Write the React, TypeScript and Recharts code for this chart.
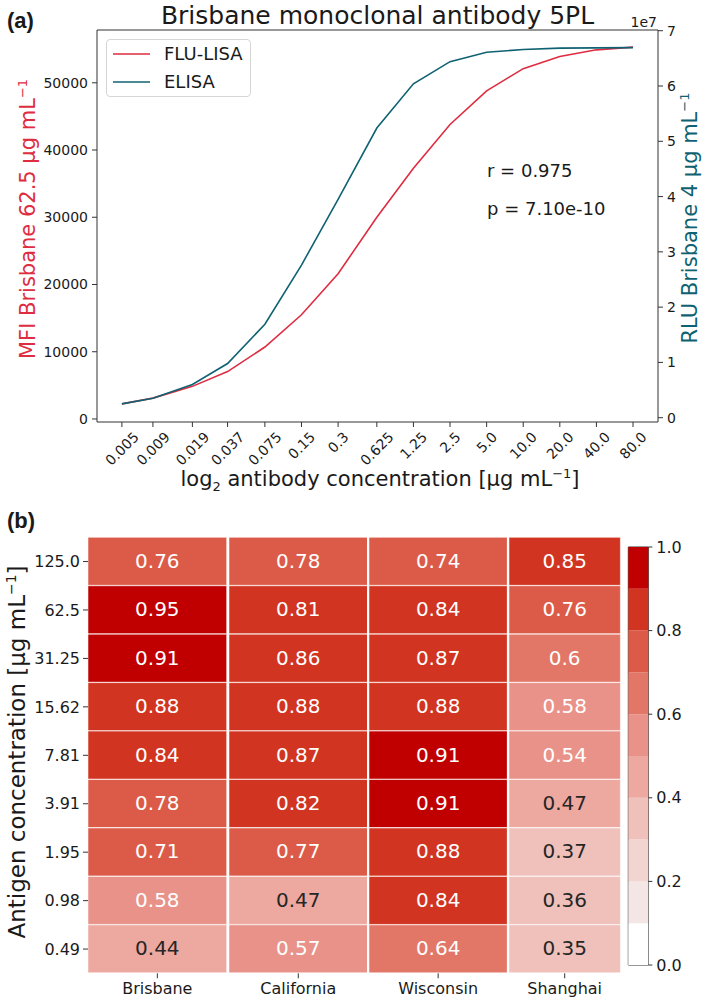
import React from "react";
import {
  LineChart,
  Line,
  XAxis,
  YAxis,
  Legend,
  ReferenceLine,
  BarChart,
  Bar,
  Cell,
  LabelList,
  ReferenceArea,
} from "recharts";

// ---- panel (a): dose-response curves ----
const concentrations = [0.005, 0.009, 0.019, 0.037, 0.075, 0.15, 0.3, 0.625, 1.25, 2.5, 5.0, 10.0, 20.0, 40.0, 80.0];
const concLabels = ["0.005", "0.009", "0.019", "0.037", "0.075", "0.15", "0.3", "0.625", "1.25", "2.5", "5.0", "10.0", "20.0", "40.0", "80.0"];
const fluLisaMfi = [2250, 3100, 4850, 7050, 10700, 15500, 21600, 30000, 37300, 43800, 48800, 52100, 53900, 54900, 55300];
const elisaRlu = [2500000, 3500000, 6000000, 9800000, 16900000, 27600000, 39500000, 52400000, 60400000, 64400000, 66100000, 66600000, 66850000, 66900000, 66950000];
const mfiTicks = [0, 10000, 20000, 30000, 40000, 50000];
const rluTicks = [0, 10000000, 20000000, 30000000, 40000000, 50000000, 60000000, 70000000];
const seriesOrder = ["FLU-LISA", "ELISA"];

// ---- panel (b): correlation heatmap ----
const strains = ["Brisbane", "California", "Wisconsin", "Shanghai"];
const antigenConc = ["125.0", "62.5", "31.25", "15.62", "7.81", "3.91", "1.95", "0.98", "0.49"];
const brisbane = [0.76, 0.95, 0.91, 0.88, 0.84, 0.78, 0.71, 0.58, 0.44];
const california = [0.78, 0.81, 0.86, 0.88, 0.87, 0.82, 0.77, 0.47, 0.57];
const wisconsin = [0.74, 0.84, 0.87, 0.88, 0.91, 0.91, 0.88, 0.84, 0.64];
const shanghai = [0.85, 0.76, 0.6, 0.58, 0.54, 0.47, 0.37, 0.36, 0.35];
const colorbarTicks = [0, 0.2, 0.4, 0.6, 0.8, 1.0];
const colorLevels = [0, 0.1, 0.2, 0.3, 0.4, 0.5, 0.6, 0.7, 0.8, 0.9];

const FONT = '"DejaVu Sans", sans-serif';
const INK = "#1a1a1a";
const AXIS = "#333";
const RED = "#de2c40";
const TEAL = "#0f6272";
const PALETTE = ["#ffffff", "#f4e6e5", "#f2d5d1", "#f0c0ba", "#eda8a0", "#e8928a", "#e27767", "#dc5b48", "#d13420", "#c00000"];

const curveData = concentrations.map((c, i) => ({ conc: c, flu: fluLisaMfi[i], elisa: elisaRlu[i] }));

const binColor = (v: number) => PALETTE[Math.min(9, Math.floor(v * 10 + 1e-9))];

const luminance = (hex: string) => {
  const ch = [1, 3, 5].map((k) => {
    const c = parseInt(hex.slice(k, k + 2), 16) / 255;
    return c <= 0.03928 ? c / 12.92 : Math.pow((c + 0.055) / 1.055, 2.4);
  });
  return 0.2126 * ch[0] + 0.7152 * ch[1] + 0.0722 * ch[2];
};
const textColor = (v: number) => (luminance(binColor(v)) > 0.408 ? "#262626" : "#ffffff");

const textW = (s: string, size: number) =>
  [...s].reduce((a, ch) => a + (ch === "." ? 0.318 : 0.636), 0) * size;

const RotTick = (props: any) => {
  const { x, y, payload } = props;
  const label = concLabels[concentrations.indexOf(payload.value)] ?? String(payload.value);
  const fs = 14;
  const w = textW(label, fs);
  const ax = x + 0.354 * (w + 0.73 * fs);
  const ay = y + 11;
  return (
    <text x={ax} y={ay} textAnchor="end" fontSize={fs} fill={INK} transform={`rotate(-45 ${ax} ${ay})`}>
      {label}
    </text>
  );
};

const renderLegend = (props: any) => {
  const items = [...(props.payload || [])].sort(
    (a: any, b: any) => seriesOrder.indexOf(a.value) - seriesOrder.indexOf(b.value)
  );
  return (
    <div
      style={{
        width: 145,
        boxSizing: "border-box",
        border: "1px solid #d6d6d6",
        borderRadius: 4,
        background: "#fff",
        padding: "0 6px",
        fontFamily: FONT,
        fontSize: 18,
        color: INK,
      }}
    >
      {items.map((p: any) => (
        <div key={p.value} style={{ display: "flex", alignItems: "center", height: 28 }}>
          <svg width={37} height={4} style={{ display: "block" }}>
            <line x1={0} y1={2} x2={37} y2={2} stroke={p.color} strokeWidth={1.6} />
          </svg>
          <span style={{ marginLeft: 14, lineHeight: "28px" }}>{p.value}</span>
        </div>
      ))}
    </div>
  );
};

const CellLabel = (props: any) => {
  const vb = props.viewBox || props;
  const x = props.x ?? vb.x;
  const y = props.y ?? vb.y;
  const width = props.width ?? vb.width;
  const height = props.height ?? vb.height;
  const v = Number(props.value);
  return (
    <text x={x + width / 2} y={y + height / 2 + 6.5} textAnchor="middle" fontSize={20} fill={textColor(v)}>
      {String(v)}
    </text>
  );
};

const HeatColumn = ({ strain, values, left, width, first }: any) => {
  const axisW = first ? 88 : 8;
  const rows = antigenConc.map((c, i) => ({ conc: c, v: values[i], span: 1 }));
  return (
    <div style={{ position: "absolute", left: left - axisW, top: 500 }}>
      <BarChart
        layout="vertical"
        width={axisW + width}
        height={499}
        data={rows}
        margin={{ top: 37.3, right: 0, bottom: 0, left: 0 }}
        barCategoryGap={0}
      >
        <XAxis
          type="number"
          domain={[0, 1]}
          ticks={[0.5]}
          tickFormatter={() => strain}
          axisLine={false}
          tickSize={5}
          tickMargin={4}
          height={25.7}
          stroke={AXIS}
          tick={{ fontSize: 16, fill: INK }}
        />
        <YAxis
          type="category"
          dataKey="conc"
          width={axisW}
          axisLine={false}
          tickSize={first ? 5 : 4}
          tickMargin={3}
          stroke={AXIS}
          tick={first ? { fontSize: 16, fill: INK } : false}
        />
        <Bar dataKey="span" isAnimationActive={false} stroke="#ffffff" strokeWidth={1} strokeOpacity={0.55}>
          {rows.map((r, i) => (
            <Cell key={i} fill={binColor(r.v)} />
          ))}
          <LabelList dataKey="v" content={CellLabel} />
        </Bar>
        {first && (
          <text x={7} y={28} fontFamily='"Liberation Sans", sans-serif' fontWeight="bold" fontSize={22} fill={INK}>
            (b)
          </text>
        )}
        {first && (
          <text transform="rotate(-90)" x={-252} y={25} textAnchor="middle" fontSize={23} fill={INK}>
            Antigen concentration [µg mL
            <tspan dy={-9} fontSize={14}>−1</tspan>
            <tspan dy={9}>]</tspan>
          </text>
        )}
      </BarChart>
    </div>
  );
};

const heatColumns = [brisbane, california, wisconsin, shanghai];
const colLeft = [88, 228.7, 369, 509.3];
const colRight = [226.7, 367.3, 507.3, 620.7];

const cbRow = [{ name: "cb", ...Object.fromEntries(colorLevels.map((lv, i) => [`b${i}`, 0.1])) }];

export default function App() {
  return (
    <div
      style={{
        position: "absolute",
        left: 0,
        top: 0,
        width: 709,
        height: 999,
        background: "#fff",
        fontFamily: FONT,
        color: INK,
      }}
    >
      <div style={{ position: "absolute", left: 0, top: 0 }}>
        <LineChart width={709} height={500} data={curveData} margin={{ top: 30, right: 0, bottom: 0, left: 0 }}>
          <XAxis
            dataKey="conc"
            type="number"
            scale="log"
            domain={[0.00312, 128.4]}
            allowDataOverflow
            ticks={concentrations}
            tick={<RotTick />}
            tickSize={5}
            tickMargin={0}
            height={78}
            stroke={AXIS}
            interval={0}
          />
          <YAxis
            yAxisId="left"
            type="number"
            domain={[-450, 57850]}
            allowDataOverflow
            ticks={mfiTicks}
            width={97}
            tickSize={5}
            tickMargin={4}
            stroke={AXIS}
            tick={{ fontSize: 14, fill: INK }}
          />
          <YAxis
            yAxisId="right"
            orientation="right"
            type="number"
            domain={[-780000, 70130000]}
            allowDataOverflow
            ticks={rluTicks}
            tickFormatter={(v: number) => String(Math.round(v / 1e7))}
            width={51}
            tickSize={5}
            tickMargin={4}
            stroke={AXIS}
            tick={{ fontSize: 14, fill: INK }}
          />
          <ReferenceLine yAxisId="left" y={57850} stroke={AXIS} ifOverflow="visible" />
          <Line
            yAxisId="left"
            type="linear"
            dataKey="flu"
            name="FLU-LISA"
            stroke={RED}
            strokeWidth={1.6}
            dot={false}
            isAnimationActive={false}
          />
          <Line
            yAxisId="right"
            type="linear"
            dataKey="elisa"
            name="ELISA"
            stroke={TEAL}
            strokeWidth={1.6}
            dot={false}
            isAnimationActive={false}
          />
          <Legend
            layout="vertical"
            align="center"
            verticalAlign="middle"
            itemSorter={null as any}
            content={renderLegend}
            wrapperStyle={{ left: 106, top: 39, width: 145 }}
          />
          <text x={7} y={28} fontFamily='"Liberation Sans", sans-serif' fontWeight="bold" fontSize={22} fill={INK}>
            (a)
          </text>
          <text x={377.5} y={24} textAnchor="middle" fontSize={25} fill={INK}>
            Brisbane monoclonal antibody 5PL
          </text>
          <text x={657} y={27} textAnchor="end" fontSize={14} fill={INK}>
            1e7
          </text>
          <text x={487} y={177} fontSize={18} fill={INK}>
            r = 0.975
          </text>
          <text x={487} y={215} fontSize={18} fill={INK}>
            p = 7.10e-10
          </text>
          <text transform="rotate(-90)" x={-219} y={35} textAnchor="middle" fontSize={21} fill={RED}>
            MFI Brisbane 62.5 µg mL
            <tspan dy={-8} fontSize={13}>−1</tspan>
          </text>
          <text transform="rotate(-90)" x={-218} y={697} textAnchor="middle" fontSize={21} fill={TEAL}>
            RLU Brisbane 4 µg mL
            <tspan dy={-8} fontSize={13}>−1</tspan>
          </text>
          <text x={380} y={486} textAnchor="middle" fontSize={21} fill={INK}>
            log
            <tspan dy={5} fontSize={13}>2</tspan>
            <tspan dy={-5}> antibody concentration [µg mL</tspan>
            <tspan dy={-8} fontSize={13}>−1</tspan>
            <tspan dy={8}>]</tspan>
          </text>
        </LineChart>
      </div>

      {heatColumns.map((vals, k) => (
        <HeatColumn
          key={strains[k]}
          strain={strains[k]}
          values={vals}
          left={colLeft[k]}
          width={colRight[k] - colLeft[k]}
          first={k === 0}
        />
      ))}

      <div style={{ position: "absolute", left: 620, top: 500 }}>
        <BarChart
          width={89}
          height={499}
          data={cbRow}
          margin={{ top: 47, right: 0, bottom: 34, left: 8.3 }}
          barCategoryGap={0}
          barGap={0}
        >
          <XAxis dataKey="name" type="category" hide />
          <YAxis
            orientation="right"
            type="number"
            domain={[0, 1]}
            allowDataOverflow
            ticks={colorbarTicks}
            tickFormatter={(v: number) => v.toFixed(1)}
            width={60.7}
            axisLine={false}
            tickSize={4}
            tickMargin={4}
            stroke={AXIS}
            tick={{ fontSize: 16, fill: INK }}
          />
          {colorLevels.map((lv, i) => (
            <Bar key={i} dataKey={`b${i}`} stackId="cb" fill={PALETTE[i]} isAnimationActive={false} />
          ))}
          <ReferenceArea y1={0} y2={1} fill="none" stroke={AXIS} strokeWidth={1} ifOverflow="visible" />
        </BarChart>
      </div>
    </div>
  );
}
